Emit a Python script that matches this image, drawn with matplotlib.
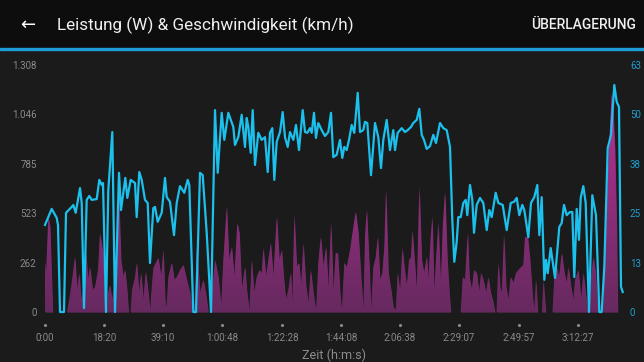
import matplotlib.pyplot as plt
import matplotlib.transforms as mtransforms
import numpy as np
from matplotlib.colors import LinearSegmentedColormap
from matplotlib.patches import Rectangle

plt.rcParams['font.family'] = ['Roboto', 'DejaVu Sans']

# position along the ride (chart index) and power in W
power_x = [0, 1, 3.3, 5, 7.7, 22, 25, 27, 30, 32, 34.3, 36, 38, 41, 43, 45, 47.5, 50, 53, 55, 58, 60, 62, 63, 65, 67, 70, 72, 74, 76,
           78.3, 80, 82, 83.5, 85.5, 87, 90, 91.7, 94, 96, 98.3, 100.7, 103.3, 105, 106.5, 108.3, 110.7, 113.3, 116, 118.3, 120.5,
           122, 123.3, 126.7, 129.3, 131.7, 135, 138.3, 141.7, 145, 147.5, 149.5, 151.7, 155, 158.3, 160.7, 163.3, 165, 167, 170,
           173.3, 176, 178.3, 181.7, 184, 186.7, 189.3, 192.3, 194.3, 196.7, 200, 201.7, 204.3, 206.7, 209, 211.7, 214.3, 216.7,
           218.3, 221, 223.3, 225.7, 228.3, 231.7, 234.3, 236.7, 238.3, 240.7, 243.3, 245.7, 247.3, 249.3, 251.7, 254, 256, 258.3,
           261, 263.3, 265.7, 268.3, 271, 273.3, 275.7, 278.3, 281, 283.3, 286, 288.3, 290.7, 292.7, 295, 296.7, 299.3, 301.7, 305,
           308.3, 310.7, 313.3, 316, 318.3, 320, 321.7, 324, 326, 328.3, 330.7, 332.7, 335, 337.3, 339.3, 341, 343.3, 346, 348.3,
           350.7, 352.7, 355, 357.3, 359.3, 361.7, 364, 366, 367.3, 370, 371.7, 374.3, 376.7, 379, 381.7, 383.3, 385.7, 387.3, 389,
           391, 393.3, 395.7, 397.7, 400, 402.3, 404.3, 405.7, 415.7, 417.7, 420, 422.7, 424.3, 426.7, 429, 431.7, 434, 436, 438.3,
           441, 443.3, 445.7, 447.7, 450, 451.5, 453.3, 455, 456.7, 459, 461, 463.3, 465.7, 468.3, 471, 473.3, 476, 478.3, 480,
           482.7, 485, 487.3, 489, 491, 492.7, 497, 498.3, 500.7, 507.5, 509.3, 511.7, 514, 516.7, 519.3, 521.7, 523.3, 526, 528.3,
           530, 533.3, 536, 538.3, 540.7, 542.7, 544.5, 546, 548.3, 550.7, 552.7, 558, 560, 562.7, 565, 566.7, 568.3, 570, 571.7, 572.7]
power_w = [265, 196, 503, 450, 0, 0, 90, 170, 291, 117, 207, 64, 117, 312, 170, 238, 117, 132, 222, 418, 312, 0, 0, 101, 143, 64, 170, 434, 593, 275,
           185, 222, 117, 0, 0, 117, 185, 260, 101, 207, 64, 212, 101, 0, 117, 233, 260, 286, 185, 328, 0,
           64, 185, 260, 170, 185, 222, 249, 170, 101, 0, 0, 344, 101, 170, 101, 0, 0, 117, 275,
           185, 26, 275, 556, 275, 344, 185, 471, 418, 117, 238, 117, 0, 275, 101, 185, 222, 207,
           339, 185, 275, 365, 185, 503, 275, 328, 207, 64, 117, 207, 37, 514, 238, 260, 132, 365,
           132, 48, 222, 101, 0, 260, 397, 238, 344, 117, 471, 101, 312, 312, 101, 0, 260, 238, 328,
           450, 530, 418, 185, 0, 397, 540, 275, 0, 238, 291, 397, 170, 207, 344, 646, 207, 117, 26,
           11, 207, 101, 339, 238, 132, 275, 291, 434, 238, 101, 662, 275, 207, 291, 170, 397, 503, 101,
           275, 471, 132, 450, 635, 275, 101, 0, 0, 185, 170, 418, 185, 117, 222, 207, 101, 207, 170,
           101, 185, 101, 64, 0, 0, 260, 132, 101, 408, 132, 64, 185, 154, 207, 222, 238, 249, 397,
           397, 275, 101, 0, 170, 0, 0, 170, 0, 0, 185, 238, 185, 312, 207, 154, 238, 132, 64,
           170, 222, 64, 207, 101, 0, 0, 185, 291, 207, 0, 0, 344, 715, 980, 1160, 1054, 858, 450, 0]

# position along the ride and speed in km/h
speed_x = [0, 6.7, 11.7, 13, 15, 19, 21, 26.7, 28.3, 30.7, 35, 36.7, 39, 41.7, 44.3, 46.7, 51.7, 54.3, 56.7, 58, 61, 63.3, 67.3, 70,
           74, 76, 80.3, 82.3, 85.7, 90, 91.7, 94.3, 96.7, 100, 102.7, 105, 108.3, 110, 112.7, 116.7, 120, 121.7, 125, 129, 131.7,
           135, 139.3, 142.7, 144.3, 148.3, 151, 155, 157.7, 161.7, 166, 170, 172.7, 176.7, 179.3, 183.3, 188.3, 190, 193.3, 196.7,
           200, 201.7, 203.3, 205.7, 207.7, 210, 213.3, 216.7, 220, 222.7, 225, 227.3, 229.3, 231.7, 235, 237.7, 240, 242.7, 245,
           248.3, 251, 254, 257.7, 260, 262.3, 265, 266.7, 269, 271, 273.3, 276.7, 280, 283.3, 286, 288.3, 291.7, 295, 297.3, 299.3,
           301.7, 304, 306.7, 309.3, 312.7, 315, 318.3, 320, 322.3, 326, 330, 333.3, 336, 338.3, 341.7, 345, 348.3, 350, 352.7,
           356.7, 360, 362.7, 366, 368.3, 371.7, 374.3, 376.7, 379, 381.7, 385, 388.3, 391, 395, 398.3, 401.7, 405, 407.3, 409.3,
           411.7, 413.3, 415.7, 418.3, 420.7, 422.3, 425, 427.3, 429, 431.7, 435, 438.3, 441.7, 444.3, 446.7, 450.7, 453.3, 457.7,
           461.7, 465.7, 469, 471.7, 474.3, 477.3, 479.3, 483.3, 486, 489.3, 492.3, 494.3, 496.7, 499.3, 501, 502.7, 505.7, 510,
           514.3, 516.7, 519, 521.7, 525, 527.3, 529.3, 531.7, 534, 535.7, 538.3, 540.7, 544, 547.3, 551, 554.3, 556.7, 559.3,
           562.7, 566, 569.3, 571.7, 574, 576, 577.7]
speed_kmh = [22.2, 26.3, 24.0, 22.2, 0, 0, 25.3, 26.8, 27.3, 25.3, 31.6, 27.8, 1.0, 28.6, 29.6, 28.6, 28.8, 33.7, 32.4, 32.9, 0, 31.1, 45.9, 0,
             35.5, 26.0, 34.2, 29.1, 33.7, 32.9, 24.2, 35.7, 33.7, 28.6, 27.8, 12.5, 26.5, 26.8, 23.0, 25.3, 34.2, 29.3, 28.1, 19.6, 27.8,
             32.1, 30.4, 33.7, 32.4, 0, 0, 35.5, 34.9, 20.2, 0, 51.5, 35.5, 50.8, 43.9, 50.8, 47.2, 42.6, 44.6, 50.3,
             42.1, 49.5, 47.2, 40.6, 51.5, 37.5, 45.7, 43.9, 44.6, 35.7, 45.7, 46.9, 33.7, 43.4, 45.9, 51.0, 44.6, 42.1, 45.9,
             43.9, 47.7, 41.3, 51.5, 45.9, 45.7, 46.9, 45.7, 50.8, 44.4, 48.2, 46.4, 44.9, 45.9, 50.8, 39.5, 40.1, 43.9, 39.3, 42.1,
             41.3, 43.9, 47.7, 45.7, 55.9, 45.9, 46.4, 48.5, 48.2, 34.9, 48.2, 44.6, 36.7, 43.9, 49.0, 41.3, 46.4, 41.3, 45.7,
             46.9, 45.9, 46.4, 47.2, 48.2, 49.0, 51.8, 45.2, 43.9, 41.6, 42.3, 45.2, 43.1, 48.2, 46.9, 46.4, 42.1, 23.5, 12.8,
             17.9, 24.2, 24.2, 27.8, 28.6, 24.7, 32.4, 28.6, 20.2, 27.3, 29.1, 27.8, 20.9, 26.0, 24.2, 30.4, 27.8, 27.3,
             20.9, 27.8, 28.1, 29.1, 24.7, 27.3, 26.0, 19.1, 27.8, 29.3, 32.4, 19.6, 29.3, 8.2, 13.3, 9.9, 16.3, 8.7,
             21.7, 22.7, 27.3, 24.7, 25.5, 25.5, 8.9, 26.3, 18.4, 29.1, 32.1, 27.8, 0, 29.8, 24.7, 0, 0, 11.5,
             41.8, 45.2, 57.9, 53.6, 52.3, 6.4, 5.1]

power_ticks = [0, 261.6, 523.2, 784.8, 1046.4, 1308]
power_tick_labels = ['0', '262', '523', '785', '1.046', '1.308']
speed_ticks = [0, 12.6, 25.2, 37.8, 50.4, 63]
speed_tick_labels = ['0', '13', '25', '38', '50', '63']
time_ticks = [0, 59, 118, 177, 237, 296, 355, 414, 474, 533]
time_labels = ['0:00', '18:20', '39:10', '1:00:48', '1:22:28', '1:44:08', '2:06:38', '2:29:07', '2:49:57', '3:12:27']

bg = '#1b1b1b'
fig = plt.figure(figsize=(6.44, 3.62), dpi=100, facecolor=bg)

# header bar
fig.add_artist(Rectangle((0, 1 - 48/362), 1, 48/362, transform=fig.transFigure, color='#0d0d0d', zorder=0))
fig.add_artist(Rectangle((0, 1 - 50/362), 1, 2/362, transform=fig.transFigure, color='#1e9cd7', zorder=1))
fig.text(28/644, 1 - 25/362, '\u2190', family=['DejaVu Sans'], fontsize=13, color='white', ha='center', va='center')
fig.text(57/644, 1 - 25/362, 'Leistung (W) & Geschwindigkeit (km/h)', fontsize=12.3, color='#f0f0f0', va='center')
fig.text(636/644, 1 - 25/362, 'ÜBERLAGERUNG', fontsize=10, weight='medium', color='#f0f0f0', ha='right', va='center')

ax = fig.add_axes([45/644, 50/362, 578/644, 247/362])
ax.set_facecolor(bg)

# power area with a vertical gradient
area = ax.fill_between(power_x, 0, power_w, color='#7a2d6e', lw=0, zorder=1)
cmap = LinearSegmentedColormap.from_list('pw', ['#66295f', '#c2349f'])
grad = np.linspace(0, 1, 256).reshape(-1, 1)
im = ax.imshow(grad, extent=[0, 578, 0, 1308], origin='lower', aspect='auto', cmap=cmap, zorder=2)
im.set_clip_path(area.get_paths()[0], transform=ax.transData)

ax.set_xlim(0, 578)
ax.set_ylim(0, 1308)
ax.set_yticks(power_ticks, power_tick_labels)
ax.set_xticks(time_ticks, time_labels)
ax.tick_params(axis='y', length=0, labelsize=7, labelcolor='#8a8a8a', pad=6)
ax.tick_params(axis='x', length=0, labelsize=7, labelcolor='#8a8a8a', pad=15)
for s in ax.spines.values():
    s.set_visible(False)

trans = mtransforms.blended_transform_factory(ax.transData, ax.transAxes)
ax.scatter(time_ticks, [-13/247] * len(time_ticks), s=5, color='#8a8a8a', transform=trans, clip_on=False, lw=0)

ax2 = ax.twinx()
ax2.plot(speed_x, speed_kmh, color='#1cc0ec', lw=1.6, solid_joinstyle='round', clip_on=False)
ax2.set_ylim(0, 63)
ax2.set_yticks(speed_ticks, speed_tick_labels)
ax2.tick_params(axis='y', length=0, labelsize=7, labelcolor='#1e9fd0', pad=5)
for s in ax2.spines.values():
    s.set_visible(False)

fig.text(334/644, 1 - 355/362, 'Zeit (h:m:s)', fontsize=9, color='#8d8d8d', ha='center', va='center')

fig.savefig('out.png', dpi=100, facecolor=bg)
